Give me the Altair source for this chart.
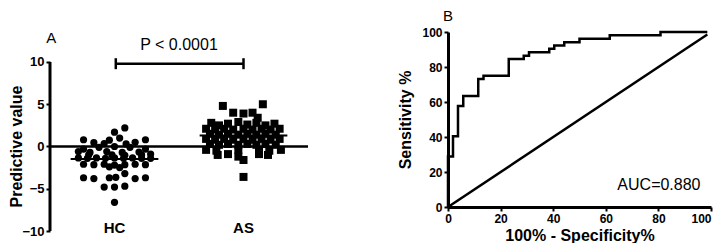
import altair as alt
import pandas as pd

FONT = "Liberation Sans"

# ---------------- Panel A data ----------------
hc_x = [0.58, 0.50, 0.54, 0.26, 0.46, 0.74, 0.34, 0.66, 0.42, 0.59,
        0.26, 0.38, 0.50, 0.62, 0.74, 0.22,
        0.31, 0.44, 0.56, 0.69, 0.78,
        0.30, 0.48, 0.58, 0.71,
        0.22, 0.29, 0.36, 0.43, 0.50, 0.57, 0.64, 0.71, 0.78,
        0.26, 0.34, 0.42, 0.50, 0.58, 0.66, 0.74,
        0.46, 0.54,
        0.58,
        0.26, 0.34, 0.46, 0.51, 0.66, 0.74,
        0.42, 0.50, 0.58,
        0.50]
hc_y = [2.2, 1.7, 1.0, 0.8, 0.75, 0.8, 0.45, 0.5, 0.35, 0.3,
        -0.3, -0.1, 0.0, -0.1, -0.3, -0.6,
        -0.7, -0.6, -0.7, -0.65, -0.9,
        -1.0, -1.0, -1.05, -1.0,
        -1.35, -1.4, -1.35, -1.4, -1.35, -1.4, -1.35, -1.4, -1.4,
        -2.1, -2.15, -2.1, -2.2, -2.15, -2.1, -2.15,
        -2.4, -2.5,
        -3.2,
        -3.7, -3.8, -3.7, -3.65, -3.8, -3.7,
        -4.8, -4.8, -4.7,
        -6.6]

as_x = [1.34, 1.65,
        1.42, 1.50, 1.57, 1.61,
        1.25, 1.31, 1.38, 1.46, 1.53, 1.60, 1.67, 1.74,
        1.21, 1.28, 1.35, 1.42, 1.50, 1.57, 1.64, 1.71, 1.78,
        1.24, 1.31, 1.38, 1.46, 1.53, 1.60, 1.67, 1.75,
        1.21, 1.28, 1.35, 1.42, 1.50, 1.57, 1.64, 1.71, 1.78,
        1.24, 1.31, 1.38, 1.46, 1.53, 1.60, 1.67, 1.75,
        1.21, 1.29, 1.46, 1.62, 1.70, 1.79,
        1.30, 1.38, 1.62, 1.69,
        1.46, 1.50,
        1.50]
as_y = [4.8, 5.0,
        4.0, 3.9, 4.0, 3.4,
        2.8, 2.5, 2.7, 2.9, 2.6, 2.8, 2.5, 2.7,
        2.1, 2.0, 2.1, 2.0, 2.1, 2.0, 2.1, 2.0, 2.1,
        1.5, 1.4, 1.5, 1.4, 1.5, 1.4, 1.5, 1.4,
        0.9, 0.8, 0.9, 0.8, 0.9, 0.8, 0.9, 0.8, 0.9,
        0.3, 0.2, 0.3, 0.2, 0.3, 0.2, 0.3, 0.2,
        -0.4, -0.5, -0.4, -0.5, -0.5, -0.4,
        -1.0, -0.9, -0.9, -1.0,
        -1.2, -1.6,
        -3.6]

groups = ["HC", "AS"]
group_pos = [0.5, 1.5]
group_mean = [-1.49, 1.29]
mean_half = 0.34
p_label = "P < 0.0001"

# ---------------- Panel B data ----------------
roc_fpr = [0, 0, 1.9, 3.8, 5.8, 11.5, 13.5, 23.1, 28.8, 30.8, 38.5, 40.4, 44.2, 50.0, 61.5, 80.8, 98.6]
roc_tpr = [0, 28.8, 40.4, 57.7, 63.5, 73.1, 75.0, 84.6, 86.5, 88.5, 90.4, 92.3, 94.2, 96.2, 98.1, 100, 100]
diag = [0, 98.6]
auc_label = "AUC=0.880"

# ---------------- Panel A ----------------
LW, LH = 258, 199
ytop = 13.55
xsA = alt.Scale(domain=[0, 2], nice=False, zero=False)
ysA = alt.Scale(domain=[-10, ytop], nice=False, zero=False)

yaxisA = alt.Axis(values=[-10, -5, 0, 5, 10], domain=False, grid=False,
                  tickSize=4, tickWidth=2, tickColor="black",
                  labelFont=FONT, labelFontWeight="bold", labelFontSize=13,
                  labelColor="black", labelPadding=2,
                  title="Predictive value", titleFont=FONT, titleFontSize=16,
                  titleFontWeight="bold", titleColor="black", titlePadding=-3,
                  titleY=114)

hc_df = pd.DataFrame({"x": hc_x, "y": hc_y})
as_df = pd.DataFrame({"x": as_x, "y": as_y})

dots_hc = alt.Chart(hc_df).mark_point(shape="circle", filled=True, color="black",
                                      size=52, opacity=1, strokeWidth=0).encode(
    x=alt.X("x:Q", scale=xsA, axis=None),
    y=alt.Y("y:Q", scale=ysA, axis=yaxisA),
)
dots_as = alt.Chart(as_df).mark_point(shape="square", filled=True, color="black",
                                      size=64, opacity=1, strokeWidth=0).encode(
    x=alt.X("x:Q", scale=xsA, axis=None),
    y=alt.Y("y:Q", scale=ysA, axis=yaxisA),
)

zero_line = alt.Chart(pd.DataFrame({"y": [0]})).mark_rule(color="black", strokeWidth=2.5).encode(
    y=alt.Y("y:Q", scale=ysA, axis=yaxisA))

axis_line = alt.Chart(pd.DataFrame({"x": [0], "y1": [-10], "y2": [10]})).mark_rule(
    color="black", strokeWidth=3).encode(
    x=alt.X("x:Q", scale=xsA, axis=None),
    y=alt.Y("y1:Q", scale=ysA, axis=yaxisA), y2="y2:Q")

mean_df = pd.DataFrame({"g": groups, "m": group_mean,
                        "x1": [p - mean_half for p in group_pos],
                        "x2": [p + mean_half for p in group_pos]})
mean_lines = alt.Chart(mean_df).mark_rule(color="black", strokeWidth=2).encode(
    x=alt.X("x1:Q", scale=xsA, axis=None), x2="x2:Q",
    y=alt.Y("m:Q", scale=ysA, axis=yaxisA))

br_y = 9.8
bracket_h = alt.Chart(pd.DataFrame({"x1": [0.51], "x2": [1.5], "y": [br_y]})).mark_rule(
    color="black", strokeWidth=2.5).encode(
    x=alt.X("x1:Q", scale=xsA, axis=None), x2="x2:Q",
    y=alt.Y("y:Q", scale=ysA, axis=yaxisA))
bracket_v = alt.Chart(pd.DataFrame({"x": [0.51, 1.5], "y1": [br_y - 0.65] * 2,
                                    "y2": [br_y + 0.65] * 2})).mark_rule(
    color="black", strokeWidth=2.5).encode(
    x=alt.X("x:Q", scale=xsA, axis=None),
    y=alt.Y("y1:Q", scale=ysA, axis=yaxisA), y2="y2:Q")

p_text = alt.Chart(pd.DataFrame({"x": [1.0], "y": [12.05], "t": [p_label]})).mark_text(
    font=FONT, fontSize=16, color="black", baseline="middle", align="center").encode(
    x=alt.X("x:Q", scale=xsA, axis=None), y=alt.Y("y:Q", scale=ysA, axis=yaxisA), text="t:N")
a_text = alt.Chart(pd.DataFrame({"x": [0.01], "y": [12.8], "t": ["A"]})).mark_text(
    font=FONT, fontSize=15, color="black", baseline="middle", align="center").encode(
    x=alt.X("x:Q", scale=xsA, axis=None), y=alt.Y("y:Q", scale=ysA, axis=yaxisA), text="t:N")
cat_text = alt.Chart(pd.DataFrame({"x": group_pos, "y": [-9.65, -9.65], "t": groups})).mark_text(
    font=FONT, fontSize=15, fontWeight="bold", color="black", baseline="middle", align="center").encode(
    x=alt.X("x:Q", scale=xsA, axis=None), y=alt.Y("y:Q", scale=ysA, axis=yaxisA), text="t:N")

panelA = alt.layer(axis_line, zero_line, dots_hc, dots_as, mean_lines,
                   bracket_h, bracket_v, p_text, a_text, cat_text).properties(width=LW, height=LH)

# ---------------- Panel B ----------------
RW, RH = 263, 175
xsB = alt.Scale(domain=[0, 100], nice=False, zero=False)
ysB = alt.Scale(domain=[0, 100], nice=False, zero=False)
common = dict(grid=False, domainColor="black", domainWidth=3, tickColor="black",
              tickWidth=2, tickSize=4, labelFont=FONT, labelFontWeight="bold",
              labelFontSize=12, labelColor="black", labelPadding=2,
              titleFont=FONT, titleFontSize=16, titleFontWeight="bold", titleColor="black")
xaxisB = alt.Axis(values=[0, 20, 40, 60, 80, 100], title="100% - Specificity%",
                  titlePadding=3, labelFlush=False,
                  labelAlign=alt.condition("datum.value == 100", alt.value("right"), alt.value("center")),
                  **common)
yaxisB = alt.Axis(values=[0, 20, 40, 60, 80, 100], title="Sensitivity %",
                  titlePadding=8, **common)

roc_df = pd.DataFrame({"fpr": roc_fpr, "tpr": roc_tpr})
roc = alt.Chart(roc_df).mark_line(interpolate="step-after", color="black", strokeWidth=2.5).encode(
    x=alt.X("fpr:Q", scale=xsB, axis=xaxisB),
    y=alt.Y("tpr:Q", scale=ysB, axis=yaxisB))
diag_df = pd.DataFrame({"fpr": diag, "tpr": diag})
diag_line = alt.Chart(diag_df).mark_line(color="black", strokeWidth=2.5).encode(
    x=alt.X("fpr:Q", scale=xsB, axis=xaxisB),
    y=alt.Y("tpr:Q", scale=ysB, axis=yaxisB))
auc_text = alt.Chart(pd.DataFrame({"x": [80.2], "y": [12.4], "t": [auc_label]})).mark_text(
    font=FONT, fontSize=16, color="black", baseline="middle", align="center").encode(
    x=alt.X("x:Q", scale=xsB, axis=xaxisB), y=alt.Y("y:Q", scale=ysB, axis=yaxisB), text="t:N")
b_text = alt.Chart(pd.DataFrame({"x": [0], "t": ["B"]})).mark_text(
    font=FONT, fontSize=15, color="black", baseline="middle", align="center").encode(
    x=alt.X("x:Q", scale=xsB, axis=xaxisB), y=alt.value(-16.5), text="t:N")

panelB = alt.layer(diag_line, roc, auc_text, b_text).properties(width=RW, height=RH)

chart = alt.hconcat(panelA, panelB, spacing=87).resolve_scale(x="independent", y="independent").configure(
    padding=0, background="white").configure_view(stroke=None)

chart.save("out.html", embed_options={"renderer": "svg", "actions": False})
